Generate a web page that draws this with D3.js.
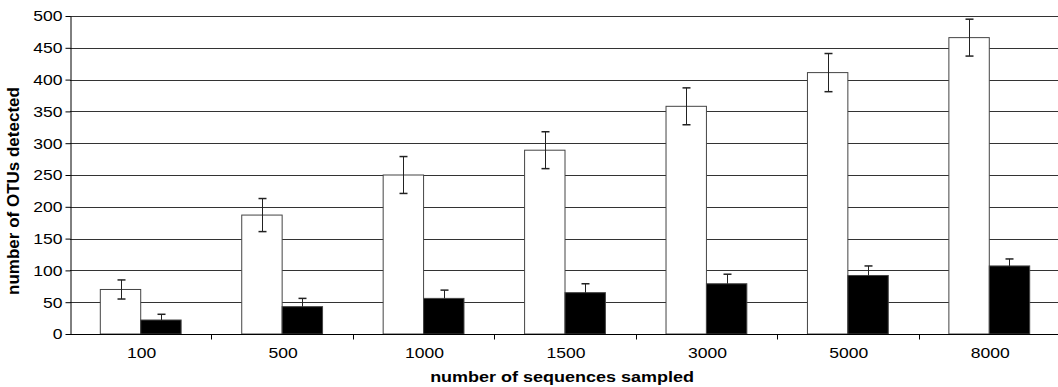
<!DOCTYPE html>
<html>
<head>
<meta charset="utf-8">
<script src="https://cdn.jsdelivr.net/npm/d3@7"></script>
<style>
  body { margin: 0; background: #fff; }
  svg text { font-family: "Liberation Sans", Arial, sans-serif; fill: #000; }
</style>
</head>
<body>
<div id="chart"></div>
<script>
const categories = ['100', '500', '1000', '1500', '3000', '5000', '8000'];
const totalOtus = [70, 187, 250, 289, 358, 411, 466];
const totalErr = [15, 26, 29, 29, 29, 30, 29];
const sharedOtus = [22, 43, 56, 65, 79, 92, 107];
const sharedErr = [9, 13, 13, 14, 15, 15, 11];
const yTicks = [0, 50, 100, 150, 200, 250, 300, 350, 400, 450, 500];

const width = 1058, height = 387;
const margin = {top: 16, right: -2, bottom: 53, left: 70};
const innerW = width - margin.left - margin.right;
const innerH = height - margin.top - margin.bottom;
const stretch = 1.17; // text in the picture is slightly wide

const svg = d3.select('#chart').append('svg')
  .attr('width', width)
  .attr('height', height);
const g = svg.append('g')
  .attr('transform', `translate(${margin.left},${margin.top})`);

const x = d3.scaleBand().domain(categories).range([0, innerW]);
const y = d3.scaleLinear().domain([0, 500]).range([innerH, 0]);
// Excel-style gap width 150%: two bars take band / 3.5 each
const barW = x.bandwidth() / 3.5;

// gridlines
g.selectAll('.grid').data(yTicks.slice(1))
  .enter().append('line')
  .attr('x1', 0).attr('x2', innerW)
  .attr('y1', d => Math.round(y(d)) + 0.5)
  .attr('y2', d => Math.round(y(d)) + 0.5)
  .style('stroke', '#333')
  .style('stroke-width', 1);

const series = [
  {vals: totalOtus, err: totalErr, fill: '#fff', off: -1},
  {vals: sharedOtus, err: sharedErr, fill: '#000', off: 0}
];

series.forEach(s => {
  const grp = g.append('g');
  grp.selectAll('rect').data(categories)
    .enter().append('rect')
    .attr('x', d => x(d) + x.bandwidth() / 2 + s.off * barW)
    .attr('y', (d, i) => y(s.vals[i]))
    .attr('width', barW)
    .attr('height', (d, i) => innerH - y(s.vals[i]))
    .style('fill', s.fill)
    .style('stroke', '#444')
    .style('stroke-width', 1);

  // error bars
  categories.forEach((d, i) => {
    const cx = Math.round(x(d) + x.bandwidth() / 2 + (s.off + 0.5) * barW) + 0.5;
    const lo = s.fill === '#000' ? s.vals[i] : s.vals[i] - s.err[i];
    const hi = s.vals[i] + s.err[i];
    grp.append('line')
      .attr('x1', cx).attr('x2', cx)
      .attr('y1', y(lo)).attr('y2', y(hi))
      .style('stroke', '#222').style('stroke-width', 1);
    [hi].concat(s.fill === '#000' ? [] : [lo]).forEach(v => {
      grp.append('line')
        .attr('x1', cx - 4).attr('x2', cx + 4)
        .attr('y1', y(v)).attr('y2', y(v))
        .style('stroke', '#222').style('stroke-width', 1.5);
    });
  });
});

// y axis
const yAxis = g.append('g')
  .attr('transform', 'translate(0.5,0)')
  .call(d3.axisLeft(y).tickValues(yTicks).tickSize(5).tickSizeOuter(0).tickPadding(3));
yAxis.select('.domain').style('stroke', '#000');
yAxis.selectAll('line').style('stroke', '#000');
yAxis.selectAll('text')
  .style('font-size', '15px')
  .attr('x', -8 / stretch)
  .attr('transform', `scale(${stretch},1)`);

// x axis
const xAxis = g.append('g')
  .attr('transform', `translate(0,${Math.round(innerH) + 0.5})`);
xAxis.append('line')
  .attr('x1', 0).attr('x2', innerW)
  .style('stroke', '#000');
xAxis.selectAll('.tick').data(categories.slice(1))
  .enter().append('line')
  .attr('x1', d => Math.round(x(d)) + 0.5)
  .attr('x2', d => Math.round(x(d)) + 0.5)
  .attr('y1', 0).attr('y2', 5)
  .style('stroke', '#000');
xAxis.selectAll('text').data(categories)
  .enter().append('text')
  .attr('transform', d => `translate(${x(d) + x.bandwidth() / 2 + 1},23) scale(${stretch},1)`)
  .attr('text-anchor', 'middle')
  .style('font-size', '15px')
  .text(d => d);

// axis titles
svg.append('text')
  .attr('transform', `translate(562,382) scale(1.2,1)`)
  .attr('text-anchor', 'middle')
  .style('font-size', '15px')
  .style('font-weight', 'bold')
  .text('number of sequences sampled');

svg.append('text')
  .attr('transform', `translate(19,191) rotate(-90)`)
  .attr('text-anchor', 'middle')
  .style('font-size', '17px')
  .style('font-weight', 'bold')
  .text('number of OTUs detected');
</script>
</body>
</html>
